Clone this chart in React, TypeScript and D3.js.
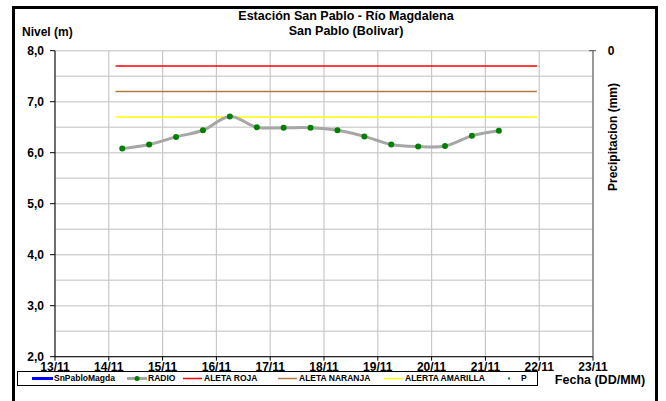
import React from "react";
import * as d3 from "d3";

const W = 666;
const H = 401;

const title1 = "Estación San Pablo - Río Magdalena";
const title2 = "San Pablo (Bolivar)";

const radioDates = [
  "2023-11-14T06:00", "2023-11-14T18:00", "2023-11-15T06:00", "2023-11-15T18:00",
  "2023-11-16T06:00", "2023-11-16T18:00", "2023-11-17T06:00", "2023-11-17T18:00",
  "2023-11-18T06:00", "2023-11-18T18:00", "2023-11-19T06:00", "2023-11-19T18:00",
  "2023-11-20T06:00", "2023-11-20T18:00", "2023-11-21T06:00",
];
const radioValues = [6.08, 6.16, 6.31, 6.44, 6.71, 6.5, 6.49, 6.49, 6.44, 6.32, 6.16, 6.12, 6.13, 6.33, 6.43];

const alertSpan = ["2023-11-14T03:00", "2023-11-21T23:00"];
const alertNames = ["ALETA ROJA", "ALETA NARANJA", "ALERTA AMARILLA"];
const alertValues = [7.7, 7.2, 6.7];
const alertColors = ["#ff0000", "#b07a45", "#ffff00"];

const xDomain = ["2023-11-13T00:00", "2023-11-23T00:00"];
const yDomain = [2, 8];
const yTicks = [2, 3, 4, 5, 6, 7, 8];
const yGrid = [2, 2.5, 3, 3.5, 4, 4.5, 5, 5.5, 6, 6.5, 7, 7.5, 8];

const legendItems = ["SnPabloMagda", "RADIO", "ALETA ROJA", "ALETA NARANJA", "ALERTA AMARILLA", "P"];

const parse = (s: string) => new Date(s);

export default function App() {
  const left = 55, right = 593, top = 50.7, bottom = 356.7;
  const x = d3.scaleTime().domain(xDomain.map(parse)).range([left, right]);
  const y = d3.scaleLinear().domain(yDomain).range([bottom, top]);
  const days = d3.timeDay.range(parse(xDomain[0]), d3.timeDay.offset(parse(xDomain[1]), 1));
  const fmtDay = d3.timeFormat("%d/%m");
  const fmtY = (v: number) => v.toFixed(1).replace(".", ",");

  const pts = radioDates.map((d, i) => [x(parse(d)), y(radioValues[i])] as [number, number]);
  const line = d3.line().curve(d3.curveCardinal.tension(0))(pts) || "";
  const font = "'Liberation Sans', Arial, sans-serif";

  const legendX = [32, 127, 183, 278, 384, 509];

  return (
    <svg width={W} height={H} style={{ position: "absolute", left: 0, top: 0, background: "#fff" }}
      fontFamily={font} fontWeight="bold">
      <rect x={0} y={0} width={W} height={H} fill="#fff" />
      <rect x={13.5} y={7.5} width={643} height={410} fill="none" stroke="#000" strokeWidth={3} />
      {/* gridlines */}
      {yGrid.map((v) => (
        <line key={"h" + v} x1={left} x2={right} y1={y(v)} y2={y(v)} stroke="#d4d4d4" strokeWidth={1.5} />
      ))}
      {days.map((d, i) => (
        <line key={"v" + i} x1={x(d)} x2={x(d)} y1={top} y2={bottom} stroke="#c8c8c8" strokeWidth={1.2} />
      ))}
      {/* alerts */}
      {alertValues.map((v, i) => (
        <line key={"a" + i} x1={x(parse(alertSpan[0]))} x2={x(parse(alertSpan[1]))} y1={y(v)} y2={y(v)}
          stroke={alertColors[i]} strokeWidth={1.5} />
      ))}
      {/* radio */}
      <path d={line} fill="none" stroke="#a6a6a6" strokeWidth={3} />
      {pts.map((p, i) => (
        <circle key={"p" + i} cx={p[0]} cy={p[1]} r={3} fill="#008000" />
      ))}
      {/* axes */}
      <line x1={left} x2={left} y1={top} y2={bottom} stroke="#000" strokeWidth={1} />
      <line x1={left} x2={right} y1={bottom} y2={bottom} stroke="#000" strokeWidth={1} />
      <line x1={right} x2={right} y1={top} y2={bottom} stroke="#555" strokeWidth={1} />
      <line x1={right - 4} x2={right + 3} y1={top} y2={top} stroke="#555" strokeWidth={1} />
      {yTicks.map((v) => (
        <g key={"yt" + v}>
          <line x1={left - 5} x2={left} y1={y(v)} y2={y(v)} stroke="#000" />
          <text x={44} y={y(v)} dy="0.35em" textAnchor="end" fontSize={12}>{fmtY(v)}</text>
        </g>
      ))}
      {days.map((d, i) => (
        <g key={"xt" + i}>
          <line x1={x(d)} x2={x(d)} y1={bottom} y2={bottom + 4} stroke="#000" />
          <text x={x(d)} y={371} textAnchor="middle" fontSize={12}>{fmtDay(d)}</text>
        </g>
      ))}
      <text x={611} y={y(8)} dy="0.35em" textAnchor="middle" fontSize={12}>0</text>
      <text transform={`translate(617,137) rotate(-90)`} textAnchor="middle" fontSize={12}>Precipitacion (mm)</text>
      <text x={22} y={36} fontSize={12}>Nivel (m)</text>
      <text x={346} y={20} textAnchor="middle" fontSize={12.5}>{title1}</text>
      <text x={346} y={35} textAnchor="middle" fontSize={12.5}>{title2}</text>
      <text x={600} y={384} textAnchor="middle" fontSize={12.5}>Fecha (DD/MM)</text>
      {/* legend */}
      <rect x={17.5} y={371.5} width={520} height={14} fill="#fff" stroke="#000" strokeWidth={1} />
      {legendItems.map((name, i) => {
        const lx = legendX[i];
        const cy = 378.5;
        let sym: React.ReactNode = null;
        if (i === 0) sym = <line x1={lx} x2={lx + 21} y1={cy} y2={cy} stroke="#0000ff" strokeWidth={3} />;
        else if (i === 1)
          sym = (
            <g>
              <line x1={lx} x2={lx + 20} y1={cy} y2={cy} stroke="#a6a6a6" strokeWidth={3} />
              <circle cx={lx + 10} cy={cy} r={2.5} fill="#008000" />
            </g>
          );
        else if (i >= 2 && i <= 4)
          sym = <line x1={lx} x2={lx + 19} y1={cy} y2={cy} stroke={alertColors[i - 2]} strokeWidth={1.5} />;
        else sym = <rect x={lx - 1} y={cy - 1} width={2} height={2} fill="#008000" />;
        const tx = i === 5 ? lx + 12 : lx + (i === 0 ? 22 : 21);
        return (
          <g key={"l" + i}>
            {sym}
            <text x={tx} y={cy} dy="0.35em" fontSize={8.5}>{name}</text>
          </g>
        );
      })}
    </svg>
  );
}
